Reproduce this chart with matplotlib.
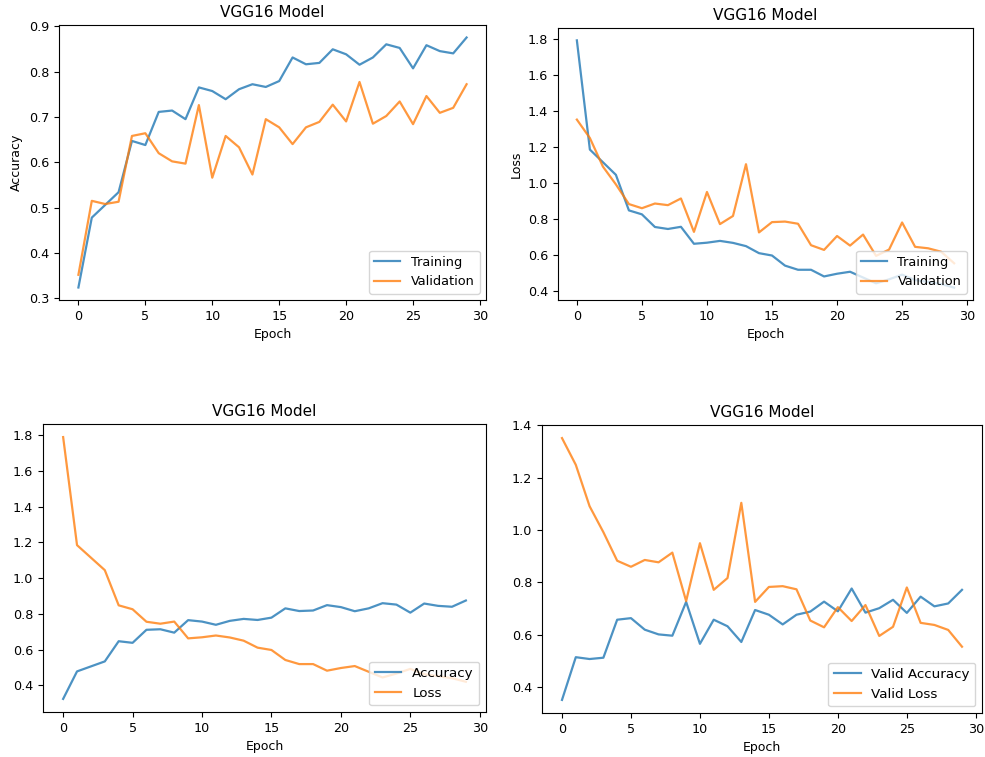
import numpy as np
import matplotlib
matplotlib.use("Agg")
import matplotlib.pyplot as plt

# VGG16 training history
epochs = np.arange(30)

train_acc = [0.324, 0.478, 0.506, 0.534, 0.647, 0.638, 0.711, 0.714, 0.695, 0.765,
             0.757, 0.739, 0.761, 0.772, 0.766, 0.779, 0.831, 0.816, 0.819, 0.849,
             0.838, 0.815, 0.831, 0.860, 0.852, 0.807, 0.858, 0.845, 0.840, 0.875]
val_acc = [0.352, 0.515, 0.508, 0.513, 0.658, 0.664, 0.620, 0.602, 0.597, 0.726,
           0.566, 0.658, 0.633, 0.573, 0.695, 0.677, 0.640, 0.677, 0.689, 0.727,
           0.690, 0.777, 0.685, 0.702, 0.734, 0.684, 0.746, 0.709, 0.720, 0.772]
train_loss = [1.790, 1.185, 1.115, 1.045, 0.848, 0.826, 0.756, 0.745, 0.757, 0.663,
              0.669, 0.679, 0.668, 0.650, 0.611, 0.598, 0.542, 0.519, 0.519, 0.482,
              0.497, 0.508, 0.476, 0.444, 0.466, 0.492, 0.462, 0.452, 0.440, 0.420]
val_loss = [1.351, 1.249, 1.091, 0.992, 0.883, 0.860, 0.886, 0.877, 0.914, 0.729,
            0.950, 0.772, 0.817, 1.104, 0.726, 0.783, 0.786, 0.774, 0.655, 0.629,
            0.706, 0.653, 0.714, 0.596, 0.631, 0.781, 0.646, 0.638, 0.619, 0.555]

title = "VGG16 Model"
W, H = 985, 757


def axes_at(fig, x0, y0, x1, y1):
    """Place axes using pixel box (left, top, right, bottom)."""
    return fig.add_axes([x0 / W, 1 - y1 / H, (x1 - x0) / W, (y1 - y0) / H])


def style(ax):
    ax.set_title(title, fontsize=11)
    ax.set_xlabel("Epoch", fontsize=9)
    ax.tick_params(labelsize=9.2)
    ax.set_xticks([0, 5, 10, 15, 20, 25, 30])


fig = plt.figure(figsize=(W / 100, H / 100), dpi=100)
kw = dict(alpha=0.8, lw=1.6)

ax1 = axes_at(fig, 59, 25, 486, 300)
ax1.plot(epochs, train_acc, color="tab:blue", label="Training", **kw)
ax1.plot(epochs, val_acc, color="tab:orange", label="Validation", **kw)
ax1.set_ylabel("Accuracy", fontsize=9)
style(ax1)
ax1.legend(loc="lower right", fontsize=9.3)

ax2 = axes_at(fig, 558, 28, 973, 300)
ax2.plot(epochs, train_loss, color="tab:blue", label="Training", **kw)
ax2.plot(epochs, val_loss, color="tab:orange", label="Validation", **kw)
ax2.set_ylabel("Loss", fontsize=9)
style(ax2)
ax2.legend(loc="lower right", fontsize=9.3)

ax3 = axes_at(fig, 43, 424, 486, 712)
ax3.plot(epochs, train_acc, color="tab:blue", label="Accuracy", **kw)
ax3.plot(epochs, train_loss, color="tab:orange", label="Loss", **kw)
style(ax3)
ax3.legend(loc="lower right", fontsize=9.7)

ax4 = axes_at(fig, 542, 425, 982, 713)
ax4.plot(epochs, val_acc, color="tab:blue", label="Valid Accuracy", **kw)
ax4.plot(epochs, val_loss, color="tab:orange", label="Valid Loss", **kw)
style(ax4)
ax4.legend(loc="lower right", fontsize=9.7)

fig.savefig("out.png", dpi=100)
